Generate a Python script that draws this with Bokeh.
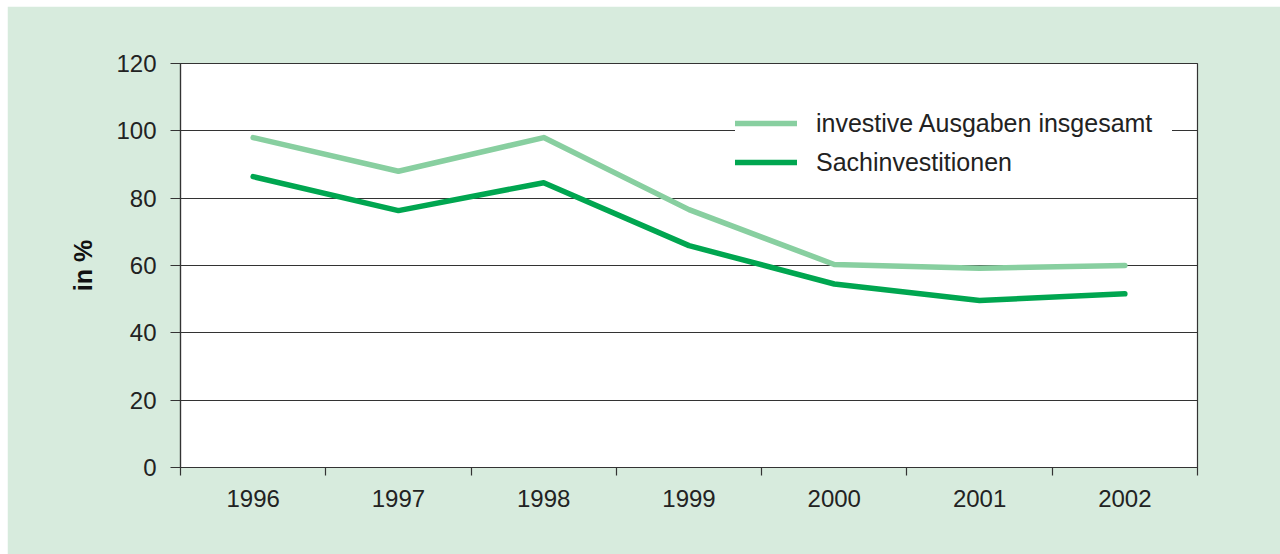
from bokeh.plotting import figure
from bokeh.models import Range1d, FixedTicker, Legend, LegendItem
from bokeh.embed import file_html
from bokeh.resources import INLINE

years = ["1996", "1997", "1998", "1999", "2000", "2001", "2002"]
invest_total = [98.0, 88.0, 98.0, 76.6, 60.3, 59.2, 60.0]
sach = [86.4, 76.3, 84.6, 65.9, 54.5, 49.6, 51.6]
y_ticks = [0, 20, 40, 60, 80, 100, 120]

BG = "#d7ebdd"
DARK = "#333333"
FONT = "Liberation Sans"

p = figure(width=1273, height=548, output_backend="svg", toolbar_location=None,
           x_range=Range1d(0, len(years)), y_range=Range1d(0, 120),
           min_border_left=173, min_border_right=83, min_border_top=57, min_border_bottom=87)
p.styles = {"margin-left": "7px", "margin-top": "6px"}
p.background_fill_color = "white"
p.border_fill_color = BG
p.outline_line_color = DARK
p.outline_line_width = 1.2

xs = [i + 0.5 for i in range(len(years))]

r1 = p.line(xs, invest_total, line_color="#88cfa0", line_width=5.5, line_cap="round", line_join="round")
r2 = p.line(xs, sach, line_color="#00a650", line_width=5.5, line_cap="round", line_join="round")

# x axis: labels at centers, ticks at boundaries
xax = p.xaxis[0]
xax.ticker = FixedTicker(ticks=xs, minor_ticks=list(range(len(years) + 1)))
xax.major_label_overrides = {x: y for x, y in zip(xs, years)}
xax.major_tick_line_color = None
xax.major_tick_out = 0
xax.major_tick_in = 0
xax.minor_tick_out = 8
xax.minor_tick_in = 0
xax.minor_tick_line_color = DARK
xax.minor_tick_line_width = 1.2
xax.axis_line_color = DARK
xax.axis_line_width = 1.2
xax.major_label_standoff = 14
xax.major_label_text_font = FONT
xax.major_label_text_font_size = "24px"
xax.major_label_text_color = "#222222"

yax = p.yaxis[0]
yax.ticker = FixedTicker(ticks=y_ticks)
yax.minor_tick_line_color = None
yax.major_tick_out = 10
yax.major_tick_in = 0
yax.major_tick_line_color = DARK
yax.major_tick_line_width = 1.2
yax.axis_line_color = DARK
yax.axis_line_width = 1.2
yax.major_label_standoff = 14
yax.major_label_text_font = FONT
yax.major_label_text_font_size = "24px"
yax.major_label_text_color = "#222222"
yax.axis_label = "in %"
yax.axis_label_text_font = FONT
yax.axis_label_text_font_style = "bold"
yax.axis_label_text_font_size = "25px"
yax.axis_label_text_color = "#111111"
yax.axis_label_standoff = 16

p.xgrid.grid_line_color = None
p.ygrid.grid_line_color = DARK
p.ygrid.grid_line_width = 1.2
p.ygrid.ticker = FixedTicker(ticks=y_ticks)

legend = Legend(items=[LegendItem(label="investive Ausgaben insgesamt", renderers=[r1]),
                       LegendItem(label="Sachinvestitionen", renderers=[r2])],
                location=(555, 290))
legend.background_fill_color = "white"
legend.background_fill_alpha = 1.0
legend.border_line_color = None
legend.label_text_font = FONT
legend.label_text_font_size = "25px"
legend.label_text_color = "#222222"
legend.glyph_width = 62
legend.glyph_height = 30
legend.label_height = 30
legend.label_width = 356
legend.spacing = 9
legend.label_standoff = 19
legend.padding = 16
legend.margin = 0
p.add_layout(legend, "center")

open("out.html", "w").write(file_html(p, INLINE))
